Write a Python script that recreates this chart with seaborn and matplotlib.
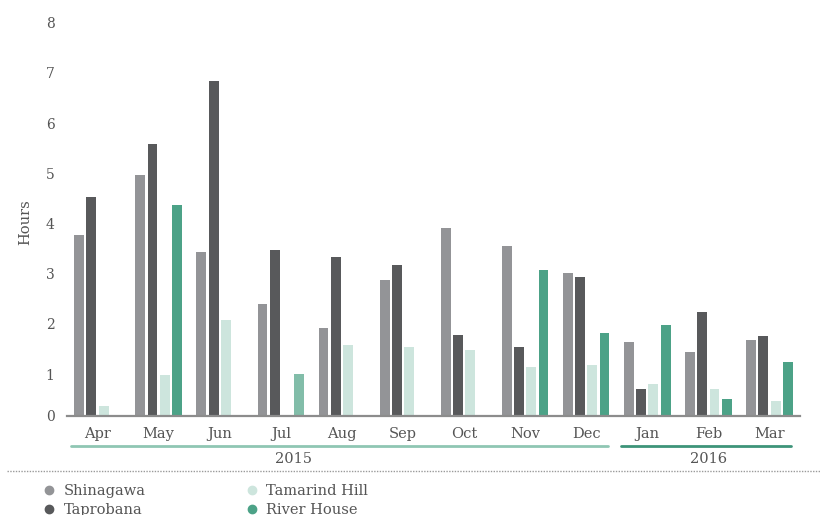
import matplotlib
matplotlib.use("Agg")
import matplotlib.pyplot as plt
import matplotlib.transforms as mtransforms
from matplotlib.lines import Line2D
import seaborn as sns
import pandas as pd

# ---- data ----
months = ["Apr", "May", "Jun", "Jul", "Aug", "Sep", "Oct", "Nov", "Dec", "Jan", "Feb", "Mar"]
month_years = ["2015"] * 9 + ["2016"] * 3
years = ["2015", "2016"]
series = ["Shinagawa", "Taprobana", "Tamarind Hill", "River House"]
shinagawa = [3.77, 4.97, 3.43, 2.39, 1.92, 2.87, 3.91, 3.55, 3.01, 1.64, 1.44, 1.68]
taprobana = [4.53, 5.58, 6.84, 3.47, 3.33, 3.17, 1.78, 1.54, 2.93, 0.70, 2.24, 1.76]
tamarind_hill = [0.36, 0.98, 2.08, 0.0, 1.58, 1.54, 1.48, 1.14, 1.18, 0.80, 0.70, 0.46]
river_house = [0.0, 4.37, 0.0, 1.00, 0.0, 0.0, 0.0, 3.07, 1.82, 1.98, 0.50, 1.24]
y_tick_values = [1, 2, 3, 4, 5, 6, 7, 8]

colors = ["#939497", "#58595b", "#cde5dd", "#4ca287"]
highlight_color = "#82bda9"   # lighter River House bar in Jul
year_line_colors = ["#8fc6b3", "#3d9479"]
text_color = "#555555"

rows = []
for name, vals in zip(series, [shinagawa, taprobana, tamarind_hill, river_house]):
    for m, v in zip(months, vals):
        rows.append({"Month": m, "Series": name, "Hours": v})
df = pd.DataFrame(rows)

sns.set_theme(style="white")
plt.rcParams["font.family"] = ["DejaVu Serif", "DejaVu Sans"]
plt.rcParams["font.size"] = 10

fig = plt.figure(figsize=(8.21, 5.15), dpi=100)
W, H = 821, 515
ax_left, ax_right, ax_bottom_px, ax_top_px = 67, 800, 415.5, 10
ax = fig.add_axes([ax_left / W, (H - ax_bottom_px) / H,
                   (ax_right - ax_left) / W, (ax_bottom_px - ax_top_px) / H])

sns.barplot(data=df, x="Month", y="Hours", hue="Series", order=months,
            hue_order=series, palette=colors, width=0.8, gap=0,
            saturation=1, legend=False, linewidth=0, edgecolor="none", ax=ax)

# shrink each bar to leave a small gap between neighbours
for p in ax.patches:
    w = p.get_width()
    new_w = w * 0.81
    p.set_x(p.get_x() + (w - new_w) / 2)
    p.set_width(new_w)
    p.set_linewidth(0)

# lighter highlight on the July River House bar
rh_idx = series.index("River House")
jul_idx = months.index("Jul")
n = len(months)
bars = list(ax.patches)
if len(bars) >= len(series) * n:
    bars[rh_idx * n + jul_idx].set_facecolor(highlight_color)

px_per_unit = 50.19
zero_px = 424.2
ybot = (zero_px - ax_bottom_px) / px_per_unit
ytop = (zero_px - ax_top_px) / px_per_unit
ax.set_ylim(ybot, ytop)
ax.set_xlim(-0.5, len(months) - 0.5)

ax.set_yticks([ybot] + y_tick_values)
ax.set_yticklabels(["0"] + [str(v) for v in y_tick_values])
ax.tick_params(axis="y", length=0, pad=9, labelsize=10, labelcolor=text_color)
ax.tick_params(axis="x", length=0, pad=8, labelsize=10.5, labelcolor=text_color)

for s in ["left", "right", "top"]:
    ax.spines[s].set_visible(False)
ax.spines["bottom"].set_color("#8c8c8c")
ax.spines["bottom"].set_linewidth(1.6)

ax.set_xlabel("")
ax.set_ylabel("Hours", fontsize=10.5, color=text_color)
ax.yaxis.set_label_coords(-0.047, 0.477)

# year brackets below month labels
trans = mtransforms.blended_transform_factory(ax.transData, fig.transFigure)
line_y = (H - 446) / H
label_y = (H - 459) / H
for yr, col in zip(years, year_line_colors):
    idx = [i for i, y in enumerate(month_years) if y == yr]
    x0, x1 = idx[0] - 0.43, idx[-1] + 0.35
    ax.add_line(Line2D([x0, x1], [line_y, line_y], transform=trans, color=col,
                       linewidth=2.0, clip_on=False))
    xc = idx[0] + (idx[-1] - idx[0]) * (0.4 if len(idx) > 3 else 0.5)
    ax.text(xc, label_y, yr, transform=trans, ha="center", va="center",
            fontsize=10.5, color=text_color)

# dotted separator
fig.add_artist(Line2D([7 / W, 1.0], [(H - 471) / H] * 2, transform=fig.transFigure,
                      color="#9a9a9a", linewidth=1.0, linestyle=(0, (1, 1))))

# legend with round markers
handles = [Line2D([], [], marker="o", linestyle="", markersize=6,
                  markerfacecolor=c, markeredgecolor=c) for c in colors]
fig.legend(handles, series, ncol=2, loc="upper left",
           bbox_to_anchor=(42 / W, (H - 484) / H), frameon=False,
           handlelength=1.0, handletextpad=0.5, columnspacing=6.75,
           labelspacing=0.36, borderpad=0, borderaxespad=0,
           prop={"size": 10.5}, labelcolor=text_color)

fig.savefig("out.png", dpi=100)
